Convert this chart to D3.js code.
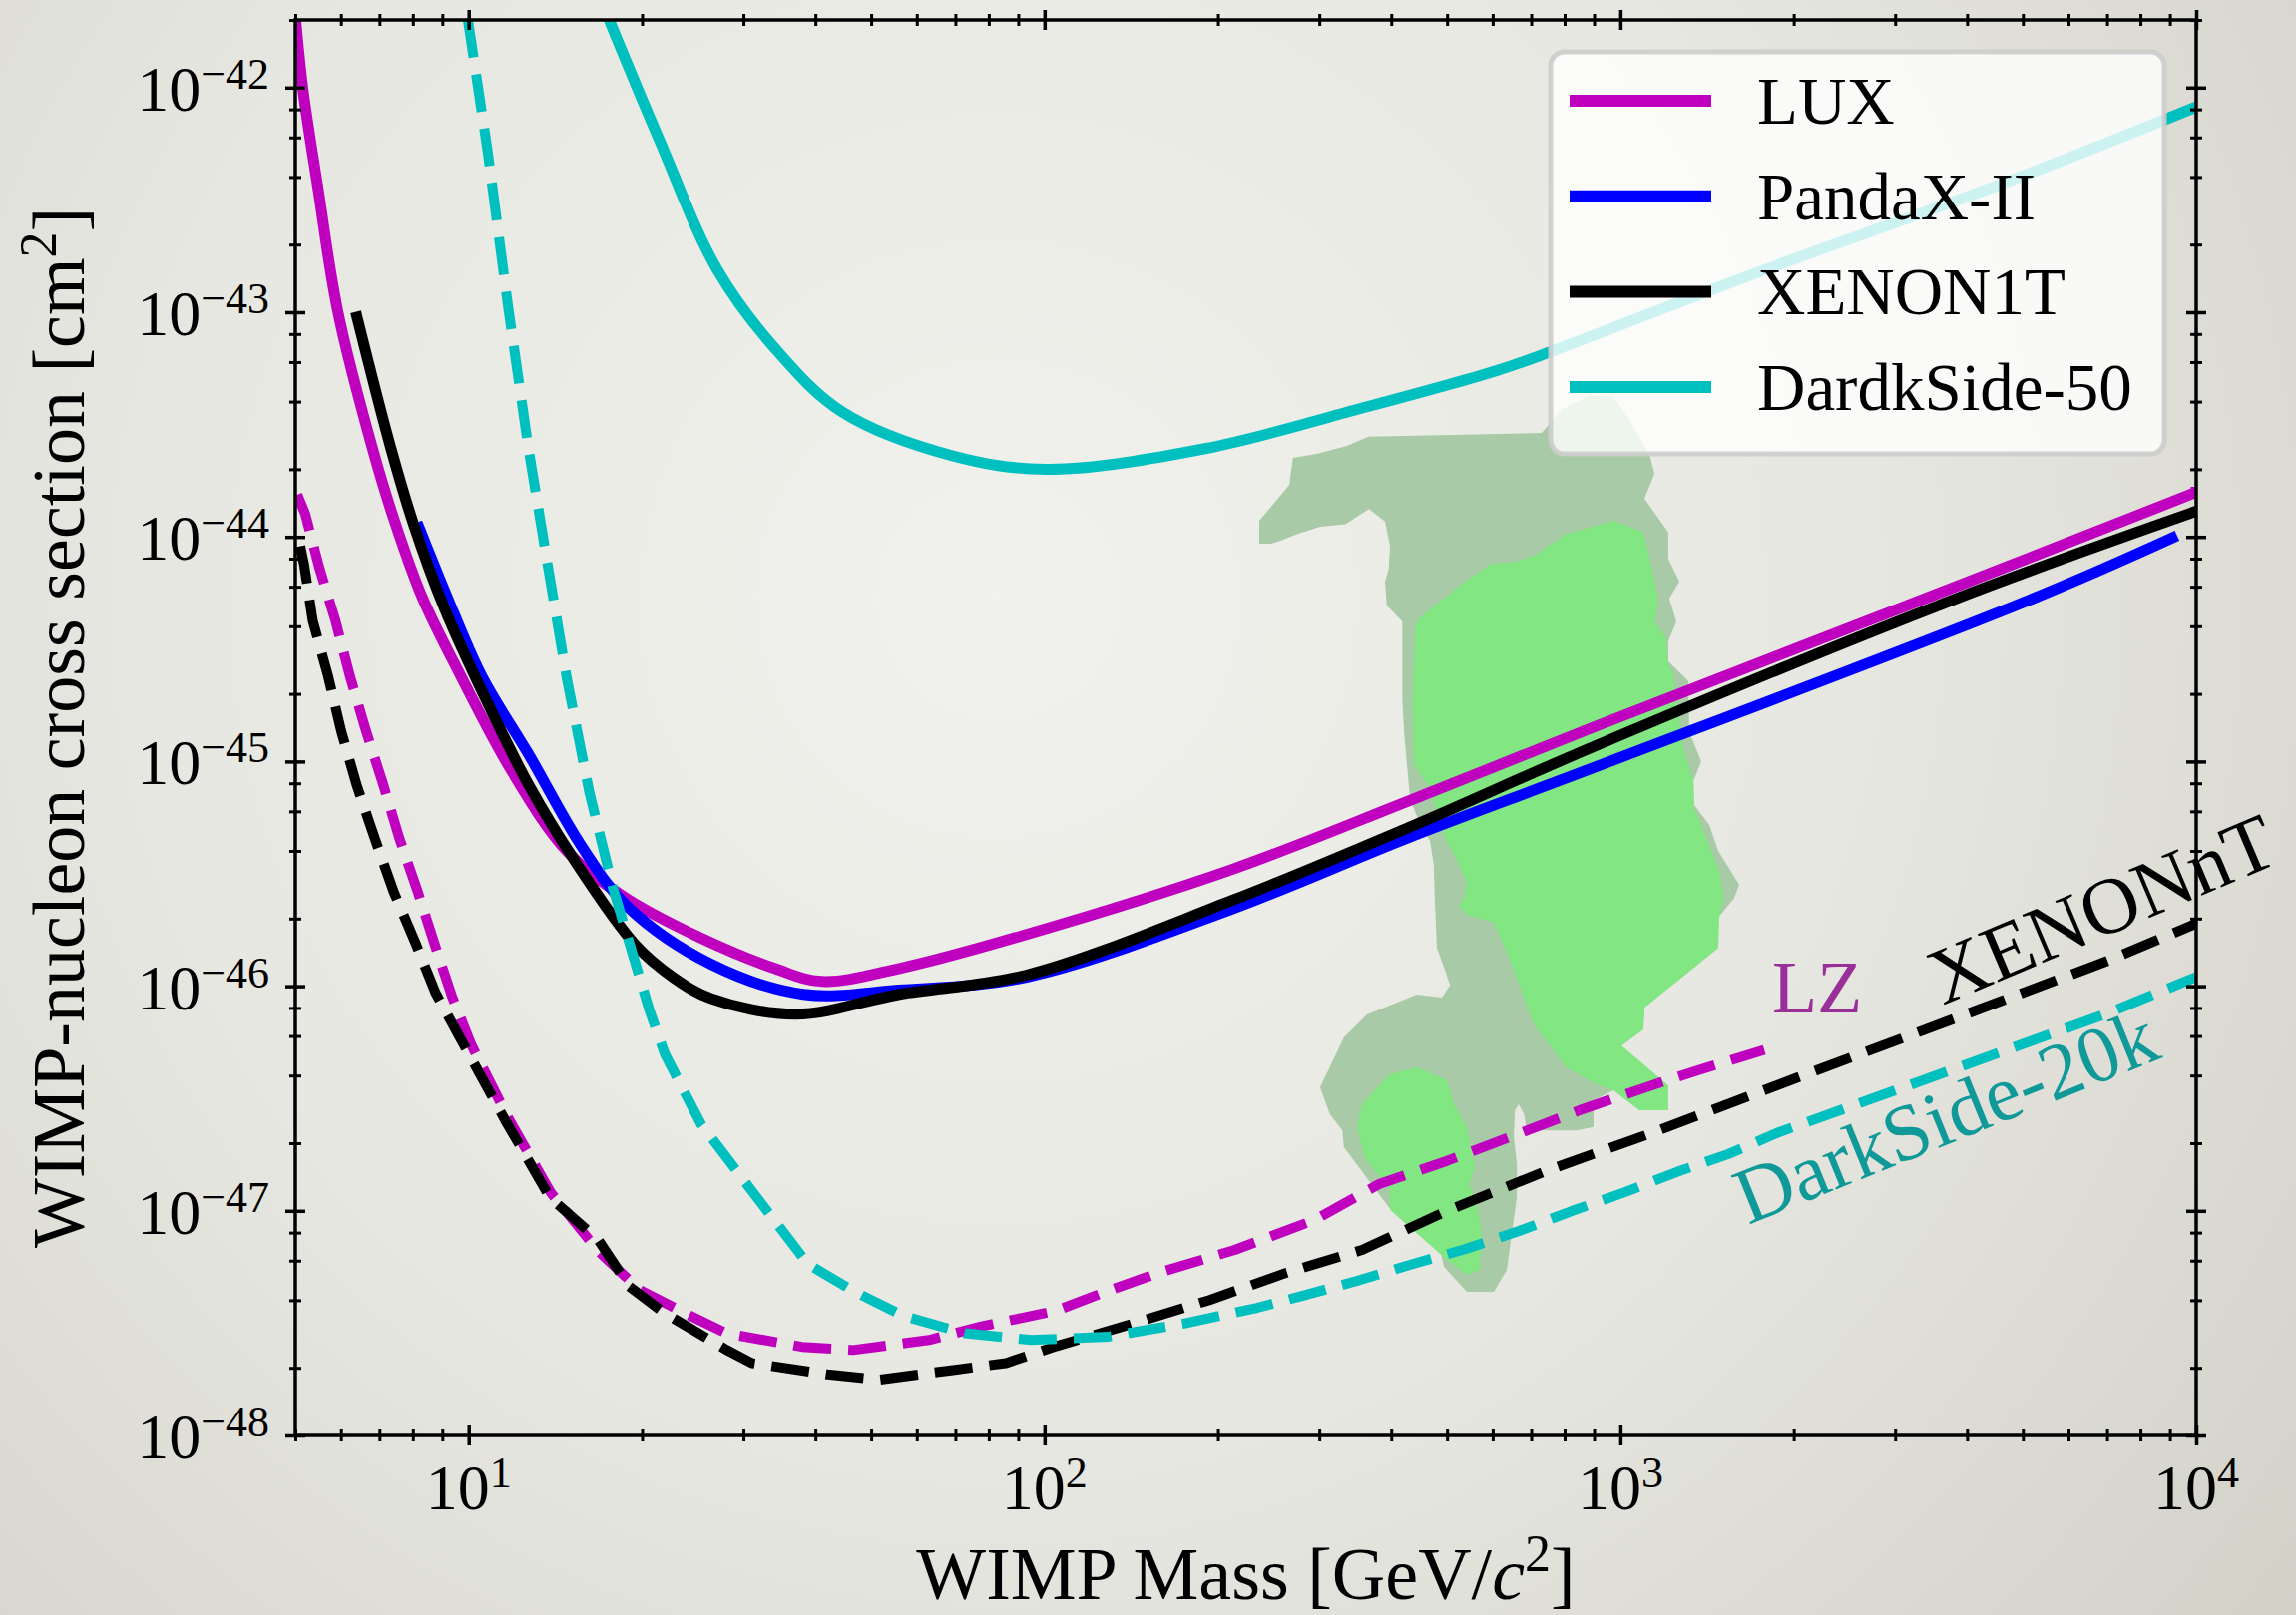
<!DOCTYPE html>
<html>
<head>
<meta charset="utf-8">
<script src="https://cdn.jsdelivr.net/npm/d3@7"></script>
<style>
html, body { margin: 0; padding: 0; background: #e4e4de; }
svg { display: block; }
text { font-family: "Liberation Serif", "DejaVu Serif", serif; fill: #000; }
</style>
</head>
<body>
<div id="chart"></div>
<script>
// WIMP mass [GeV/c^2], cross section [cm^2]
const lux = [[5,2.1e-42],[5.15,1.0e-42],[5.48,3.5e-43],[5.93,1.0e-43],[6.8,2.5e-44],[7.4,1.22e-44],[8.3,5.4e-45],[9.65,2.45e-45],[11.9,9.0e-46],[14.8,4.0e-46],[18.6,2.5e-46],[25.3,1.64e-46],[34,1.2e-46],[41,1.05e-46],[56,1.2e-46],[93,1.7e-46],[211,3.3e-46],[430,6.7e-46],[909,1.44e-45],[3820,6.0e-45],[10000,1.58e-44]];
const pandax = [[8.2,1.1e-44],[9.36,4.77e-45],[10.58,2.35e-45],[12.7,1.08e-45],[15.7,4.2e-46],[18.9,2.25e-46],[26.4,1.25e-46],[38.1,9.2e-47],[55.7,9.6e-47],[93.4,1.1e-46],[211,2.2e-46],[430,4.6e-46],[909,9.5e-46],[5190,5.3e-45],[9080,9.9e-45]];
const xenon1t = [[6.4,9.5e-44],[7.33,2.47e-44],[8.03,1.13e-44],[9.08,4.8e-45],[10.6,2.0e-45],[12.7,7.9e-46],[15.3,3.6e-46],[19.5,1.52e-46],[22.7,1.09e-46],[26.4,8.8e-47],[37,7.5e-47],[56,9.2e-47],[93,1.12e-46],[211,2.4e-46],[430,5.1e-46],[909,1.18e-45],[3820,5.3e-45],[10000,1.3e-44]];
const ds50 = [[17.4,2.1e-42],[21.4,5.9e-43],[27,1.55e-43],[34.2,6.8e-44],[44.5,3.6e-44],[69,2.3e-44],[101,2.0e-44],[190,2.47e-44],[350,3.7e-44],[610,5.5e-44],[760,6.7e-44],[1690,1.47e-43],[4690,3.8e-43],[10000,8.2e-43]];

const lz = [[5.04,1.54e-44],[5.2,1.27e-44],[5.5,7.33e-45],[5.87,4.24e-45],[6.22,2.4e-45],[6.64,1.36e-45],[7.11,7.87e-46],[7.58,4.55e-46],[8.16,2.63e-46],[8.74,1.52e-46],[9.36,8.97e-47],[10.1,5.5e-47],[11.7,2.6e-47],[13.9,1.2e-47],[16.8,6.6e-48],[19.8,4.45e-48],[24.3,3.4e-48],[28,2.85e-48],[37.9,2.48e-48],[46.5,2.4e-48],[63,2.66e-48],[77.4,3.05e-48],[105,3.6e-48],[128.7,4.4e-48],[158,5.3e-48],[214,6.7e-48],[294,9.1e-48],[382,1.32e-47],[500,1.67e-47],[652,2.16e-47],[849,2.8e-47],[1110,3.55e-47],[1355,4.2e-47],[1778,5.2e-47]];
const xenonnt = [[5.1,9.1e-45],[5.18,7.5e-45],[5.36,4.24e-45],[5.7,2.4e-45],[6.01,1.36e-45],[6.39,7.87e-46],[6.87,4.55e-46],[7.41,2.63e-46],[8.09,1.55e-46],[8.76,9.33e-47],[9.68,5.83e-47],[11.56,2.54e-47],[13.83,1.15e-47],[16.8,7.4e-48],[19,4.6e-48],[21.9,3.5e-48],[28,2.41e-48],[31,2.1e-48],[42,1.87e-48],[51.5,1.77e-48],[69.9,1.96e-48],[85.7,2.1e-48],[105,2.5e-48],[142.6,3.15e-48],[193,4.0e-48],[263,5.3e-48],[356,6.7e-48],[500,1.0e-47],[745,1.51e-47],[1123,2.2e-47],[2073,4.0e-47],[3820,7.2e-47],[7040,1.3e-46],[10000,1.9e-46]];
const ds20k = [[9.97,2.0e-42],[10.8,5.1e-43],[11.7,1.07e-43],[12.7,2.47e-44],[13.7,7.6e-45],[14.8,2.35e-45],[16.2,7.3e-46],[17.8,2.74e-46],[19.5,1.25e-46],[20.6,7.8e-47],[21.9,5.0e-47],[25.3,2.44e-47],[31,1.23e-47],[38.8,5.8e-48],[46.5,4.4e-48],[57,3.4e-48],[72.8,2.85e-48],[94.8,2.66e-48],[128.7,2.75e-48],[174.6,3.15e-48],[234,3.7e-48],[280,4.18e-48],[349,4.88e-48],[434,5.78e-48],[537,6.75e-48],[667,8.13e-48],[825,1.0e-47],[1018,1.21e-47],[1254,1.49e-47],[1541,1.79e-47],[1870,2.22e-47],[3820,4.3e-47],[7040,7.6e-47],[10000,1.1e-46]];

// favoured regions (outer contour and the two inner contours)
const regionOuter = [[270,2.25e-44],[297,2.34e-44],[335,2.54e-44],[365,2.79e-44],[730,2.9e-44],[794,3.71e-44],[888,4.28e-44],[973,4.19e-44],[1037,3.31e-44],[1123,2.34e-44],[1146,1.91e-44],[1101,1.48e-44],[1211,1.05e-44],[1211,8.0e-45],[1266,6.32e-45],[1216,5.31e-45],[1251,4.2e-45],[1211,3.42e-45],[1211,2.79e-45],[1312,2.28e-45],[1317,1.36e-45],[1382,1.0e-45],[1339,8.18e-46],[1344,6.4e-46],[1427,5.22e-46],[1479,4.0e-46],[1608,2.83e-46],[1577,2.47e-46],[1479,2.02e-46],[1479,1.48e-46],[1101,8.03e-47],[1096,6.41e-47],[996,5.34e-47],[973,3.44e-47],[898,3.1e-47],[898,2.36e-47],[839,2.28e-47],[688,2.28e-47],[680,2.69e-47],[666,2.98e-47],[656,2.8e-47],[653,2.13e-47],[661,1.61e-47],[661,1.15e-47],[643,6.91e-48],[635,5.46e-48],[603,4.36e-48],[541,4.36e-48],[494,5.63e-48],[486,6.7e-48],[398,1.02e-47],[331,1.92e-47],[329,2.28e-47],[313,2.69e-47],[301,3.55e-47],[331,5.91e-47],[363,7.48e-47],[443,9.18e-47],[490,8.9e-47],[506,1.01e-46],[494,1.21e-46],[480,1.48e-46],[476,2.47e-46],[474,3.47e-46],[467,4.43e-46],[449,5.22e-46],[431,6.88e-46],[426,9.63e-46],[421,1.36e-45],[418,1.91e-45],[418,2.68e-45],[418,4.2e-45],[393,4.95e-45],[390,6.32e-45],[396,7.22e-45],[398,9.14e-45],[390,1.17e-44],[366,1.33e-44],[333,1.14e-44],[301,1.11e-44],[275,1.03e-44],[257,9.62e-45],[247,9.33e-45],[236,9.33e-45],[236,1.18e-44],[253,1.46e-44],[266,1.7e-44]];
const regionInner = [[440,3.99e-45],[447,4.33e-45],[526,6.07e-45],[598,7.6e-45],[661,7.76e-45],[707,8.25e-45],[806,1.03e-44],[973,1.18e-44],[1096,1.05e-44],[1132,7.45e-45],[1164,5.21e-45],[1146,4.2e-45],[1202,3.53e-45],[1211,2.79e-45],[1236,2.42e-45],[1266,1.56e-45],[1286,1.15e-45],[1339,8.18e-46],[1344,6.21e-46],[1410,4.57e-46],[1485,3.26e-46],[1515,2.47e-46],[1485,2.02e-46],[1479,1.48e-46],[1101,8.03e-47],[1096,6.41e-47],[1004,5.45e-47],[1211,3.62e-47],[1211,2.8e-47],[1079,2.8e-47],[1025,3.1e-47],[973,3.44e-47],[909,3.66e-47],[806,4.35e-47],[707,6.75e-47],[680,8.9e-47],[643,1.3e-46],[603,1.92e-46],[541,2.08e-46],[524,2.3e-46],[535,2.47e-46],[541,2.94e-46],[514,3.84e-46],[486,5.06e-46],[467,7.62e-46],[438,9.63e-46],[435,1.91e-45],[438,2.68e-45]];
const regionFoot = [[398,4.05e-47],[443,4.35e-47],[500,3.81e-47],[514,2.98e-47],[541,2.36e-47],[559,1.57e-47],[546,1.32e-47],[563,1.07e-47],[574,8.22e-48],[570,5.46e-48],[541,5.19e-48],[500,6.05e-48],[398,1.01e-47],[398,1.24e-47],[359,1.73e-47],[349,2.36e-47],[356,2.98e-47],[374,3.44e-47]];

const xTickVals = [10, 100, 1000, 10000];
const xTickExp = ['1', '2', '3', '4'];
const yTickVals = [1e-48, 1e-47, 1e-46, 1e-45, 1e-44, 1e-43, 1e-42];
const yTickExp = ['\u221248', '\u221247', '\u221246', '\u221245', '\u221244', '\u221243', '\u221242'];

const legendNames = ['LUX', 'PandaX-II', 'XENON1T', 'DardkSide-50'];
const legendColors = ['#bf00bf', '#0000ff', '#000000', '#00bfbf'];

const W = 2301, H = 1619;
const box = {left: 296, right: 2201, top: 20, bottom: 1439};

const x = d3.scaleLog().domain([5, 1e4]).range([box.left, box.right]);
const y = d3.scaleLog().domain([1e-48, 2e-42]).range([box.bottom, box.top]);

const svg = d3.select('#chart').append('svg')
  .attr('width', W)
  .attr('height', H);

const defs = svg.append('defs');
const grad = defs.append('radialGradient')
  .attr('id', 'bg')
  .attr('gradientUnits', 'userSpaceOnUse')
  .attr('cx', 1000).attr('cy', 600).attr('r', 1750);
grad.append('stop').attr('offset', 0).attr('stop-color', '#f1f1ed');
grad.append('stop').attr('offset', 0.5).attr('stop-color', '#e7e7e1');
grad.append('stop').attr('offset', 1).attr('stop-color', '#cfcfc6');

defs.append('clipPath').attr('id', 'plot')
  .append('rect')
  .attr('x', box.left).attr('y', box.top)
  .attr('width', box.right - box.left).attr('height', box.bottom - box.top);

svg.append('rect').attr('width', W).attr('height', H).attr('fill', 'url(#bg)');

const plot = svg.append('g').attr('clip-path', 'url(#plot)');

//Regions
const area = d3.line().x(d => x(d[0])).y(d => y(d[1])).curve(d3.curveLinearClosed);
plot.append('path').attr('d', area(regionOuter)).attr('fill', '#a8caa6');
plot.append('path').attr('d', area(regionInner)).attr('fill', '#82e682');
plot.append('path').attr('d', area(regionFoot)).attr('fill', '#82e682');

//Curves
const smooth = d3.line().x(d => x(d[0])).y(d => y(d[1])).curve(d3.curveCatmullRom.alpha(0.5));
const straight = d3.line().x(d => x(d[0])).y(d => y(d[1]));

[[lux, '#bf00bf'], [pandax, '#0000ff'], [xenon1t, '#000000'], [ds50, '#00bfbf']].forEach(([data, color]) => {
  plot.append('path')
    .attr('d', smooth(data))
    .attr('fill', 'none')
    .attr('stroke', color)
    .attr('stroke-width', 11)
    .attr('stroke-linejoin', 'round')
    .attr('stroke-linecap', 'square');
});

[[lz, '#bf00bf'], [xenonnt, '#000000'], [ds20k, '#00bfbf']].forEach(([data, color]) => {
  plot.append('path')
    .attr('d', straight(data))
    .attr('fill', 'none')
    .attr('stroke', color)
    .attr('stroke-width', 10)
    .attr('stroke-dasharray', '38,17')
    .attr('stroke-linejoin', 'round')
    .attr('stroke-linecap', 'butt');
});

//Annotations
svg.append('text')
  .attr('x', x(1834)).attr('y', y(7.6e-47))
  .attr('font-size', 74)
  .style('fill', '#9a2f9a')
  .text('LZ');
svg.append('text')
  .attr('transform', `translate(${x(3629)},${y(8.2e-47)}) rotate(-23)`)
  .attr('font-size', 80)
  .text('XENONnT');
svg.append('text')
  .attr('transform', `translate(${x(1667)},${y(8.65e-48)}) rotate(-22)`)
  .attr('font-size', 80)
  .style('fill', '#109999')
  .text('DarkSide-20k');

//Axes
const xMinor = x.ticks().filter(v => !xTickVals.includes(v));
const yMinor = y.ticks().filter(v => {
  const m = Math.round(v / Math.pow(10, Math.floor(Math.log10(v) + 1e-9)));
  return [2, 4, 6, 8].includes(m);
});

function inout(g, len, vertical, width) {
  g.select('.domain').remove();
  g.selectAll('.tick line')
    .attr(vertical ? 'x1' : 'y1', -len)
    .attr(vertical ? 'x2' : 'y2', len)
    .attr('stroke', '#000')
    .attr('stroke-width', width);
}

const axes = [
  [d3.axisBottom, x, `translate(0,${box.bottom})`, false],
  [d3.axisTop, x, `translate(0,${box.top})`, false],
  [d3.axisLeft, y, `translate(${box.left},0)`, true],
  [d3.axisRight, y, `translate(${box.right},0)`, true]
];
axes.forEach(([gen, scale, tr, vertical]) => {
  const minor = vertical ? yMinor : xMinor;
  const major = vertical ? yTickVals : xTickVals;
  svg.append('g').attr('transform', tr)
    .call(gen(scale).tickValues(minor).tickSize(6).tickFormat(''))
    .call(g => inout(g, 6, vertical, 3));
  svg.append('g').attr('transform', tr)
    .call(gen(scale).tickValues(major).tickSize(10).tickFormat(''))
    .call(g => inout(g, 10, vertical, 3.5));
});

svg.append('rect')
  .attr('x', box.left).attr('y', box.top)
  .attr('width', box.right - box.left).attr('height', box.bottom - box.top)
  .attr('fill', 'none')
  .attr('stroke', '#000')
  .attr('stroke-width', 3.5);

//Tick labels
xTickVals.forEach((v, i) => {
  const t = svg.append('text')
    .attr('x', x(v)).attr('y', 1513)
    .attr('text-anchor', 'middle')
    .attr('font-size', 64);
  t.append('tspan').text('10');
  t.append('tspan').attr('dy', -22).attr('font-size', 44).text(xTickExp[i]);
});
yTickVals.forEach((v, i) => {
  const t = svg.append('text')
    .attr('x', 270).attr('y', y(v) + 23)
    .attr('text-anchor', 'end')
    .attr('font-size', 64);
  t.append('tspan').text('10');
  t.append('tspan').attr('dy', -22).attr('font-size', 44).text(yTickExp[i]);
});

//Axis titles
const xt = svg.append('text')
  .attr('x', (box.left + box.right) / 2).attr('y', 1603)
  .attr('text-anchor', 'middle')
  .attr('font-size', 74);
xt.append('tspan').text('WIMP Mass [GeV/');
xt.append('tspan').attr('font-style', 'italic').text('c');
xt.append('tspan').attr('dy', -28).attr('font-size', 52).text('2');
xt.append('tspan').attr('dy', 28).text(']');

const yt = svg.append('text')
  .attr('transform', `translate(84,${(box.top + box.bottom) / 2}) rotate(-90)`)
  .attr('text-anchor', 'middle')
  .attr('font-size', 74);
yt.append('tspan').text('WIMP-nucleon cross section [cm');
yt.append('tspan').attr('dy', -28).attr('font-size', 52).text('2');
yt.append('tspan').attr('dy', 28).text(']');

//Legend
const legend = svg.append('g');
legend.append('rect')
  .attr('x', 1554).attr('y', 52)
  .attr('width', 615).attr('height', 403)
  .attr('rx', 14)
  .attr('fill', '#ffffff').attr('fill-opacity', 0.8)
  .attr('stroke', '#cccccc').attr('stroke-opacity', 0.9).attr('stroke-width', 5);
legendNames.forEach((name, i) => {
  const ly = 101 + i * 95.7;
  legend.append('line')
    .attr('x1', 1573).attr('x2', 1715)
    .attr('y1', ly).attr('y2', ly)
    .attr('stroke', legendColors[i])
    .attr('stroke-width', 12);
  legend.append('text')
    .attr('x', 1761).attr('y', ly + 23)
    .attr('font-size', 67)
    .text(name);
});
</script>
</body>
</html>
